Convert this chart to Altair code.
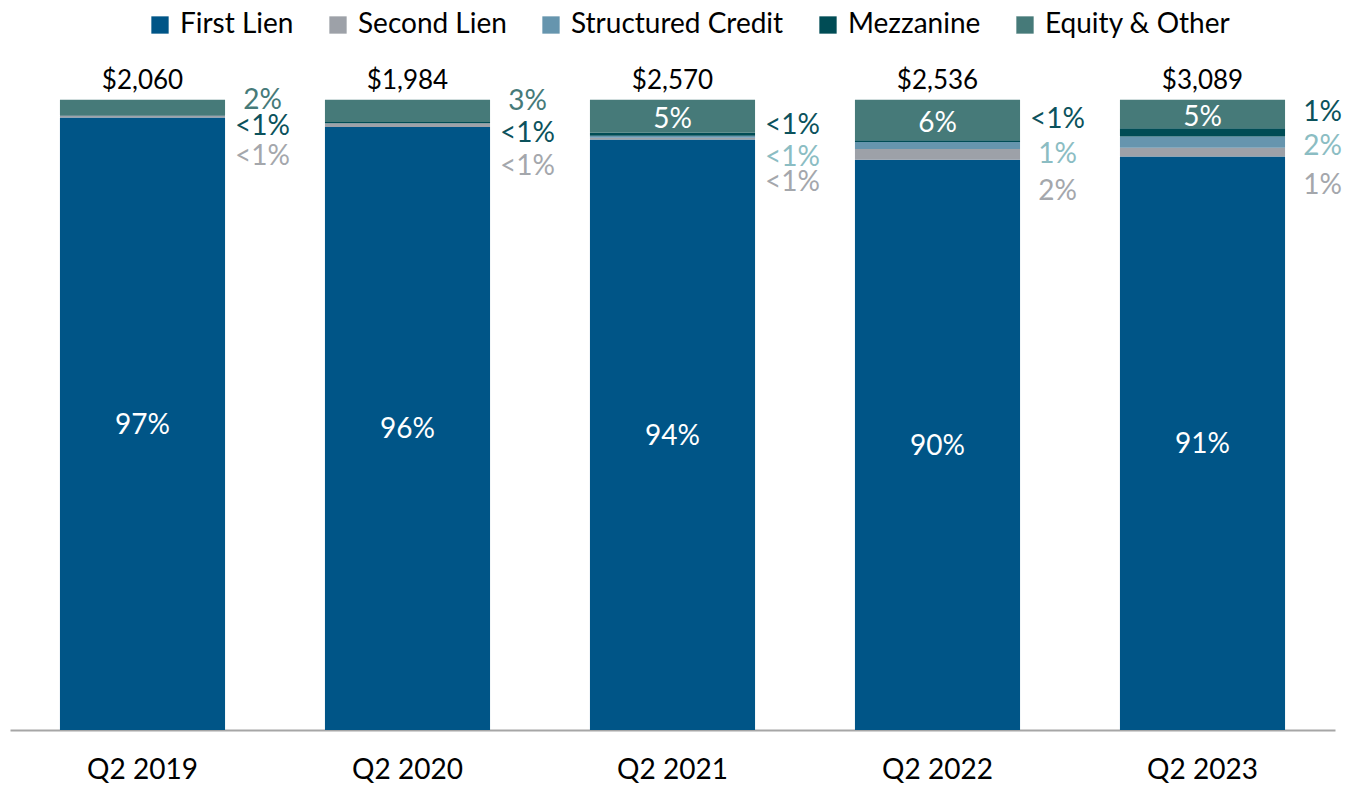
import altair as alt
import pandas as pd

quarters = ["Q2 2019", "Q2 2020", "Q2 2021", "Q2 2022", "Q2 2023"]
totals = [2060, 1984, 2570, 2536, 3089]
series = ["First Lien", "Second Lien", "Structured Credit", "Mezzanine", "Equity & Other"]
colors = ["#005587", "#9DA1A8", "#6695AE", "#004C55", "#467A79"]

first_lien = [97.2, 95.7, 93.7, 90.5, 91.0]
second_lien = [0.3, 0.6, 0.3, 1.7, 1.4]
structured = [0.0, 0.0, 0.3, 1.1, 1.8]
mezzanine = [0.1, 0.2, 0.5, 0.3, 1.3]
equity = [2.4, 3.5, 5.2, 6.4, 4.5]

fl_labels = ["97%", "96%", "94%", "90%", "91%"]
sl_labels = ["<1%", "<1%", "<1%", "2%", "1%"]
sc_labels = ["", "", "<1%", "1%", "2%"]
mz_labels = ["<1%", "<1%", "<1%", "<1%", "1%"]
eq_labels = ["2%", "3%", "5%", "6%", "5%"]

# anchor (in % of bar) of the call-out labels drawn to the right of each bar
eq_side_pos = [99.8, 99.7, None, None, None]
mz_side_pos = [95.7, 94.6, 95.9, 96.8, 97.9]
sc_side_pos = [None, None, 90.8, 91.3, 92.5]
sl_side_pos = [91.0, 89.4, 86.8, 85.4, 86.3]

FONT = "Lato"

values = [first_lien, second_lien, structured, mezzanine, equity]
rows = []
for si, (s, vals) in enumerate(zip(series, values)):
    for q, v in zip(quarters, vals):
        rows.append({"quarter": q, "series": s, "share": v, "order": si})
df = pd.DataFrame(rows)

x_enc = alt.X(
    "quarter:N",
    sort=quarters,
    title=None,
    scale=alt.Scale(paddingInner=0.377, paddingOuter=0.1885),
    axis=alt.Axis(
        labelAngle=0,
        labelFontSize=28,
        labelFont=FONT,
        labelColor="#000000",
        labelPadding=26,
        ticks=False,
        domainColor="#A6A6A6",
        domainWidth=2,
    ),
)
y_scale = alt.Scale(domain=[0, 109.5], nice=False, zero=True)

bars = alt.Chart(df).mark_bar().encode(
    x=x_enc,
    y=alt.Y("share:Q", stack="zero", scale=y_scale, axis=None, title=None),
    color=alt.Color(
        "series:N",
        sort=series,
        scale=alt.Scale(domain=series, range=colors),
        legend=alt.Legend(
            title=None,
            orient="none",
            direction="horizontal",
            legendX=136,
            legendY=-29,
            symbolType="square",
            symbolSize=300,
            symbolStrokeWidth=0,
            labelFont=FONT,
            labelFontSize=28,
            labelColor="#000000",
            labelLimit=400,
            columnPadding=30,
            labelOffset=6,
            padding=0,
        ),
    ),
    order=alt.Order("order:Q", sort="ascending"),
)

# First-lien inside labels
df_fl = pd.DataFrame({"quarter": quarters, "mid": [v / 2 for v in first_lien], "label": fl_labels})
fl_text = alt.Chart(df_fl).mark_text(color="white", fontSize=28, font=FONT, dy=2).encode(
    x=alt.X("quarter:N", sort=quarters), y=alt.Y("mid:Q", scale=y_scale), text="label:N"
)

# Equity inside labels (large enough segments)
df_eq_in = pd.DataFrame({
    "quarter": quarters,
    "mid": [100 - v / 2 for v in equity],
    "label": eq_labels,
    "inside": [v >= 4 for v in equity],
})
df_eq_in = df_eq_in[df_eq_in["inside"]]
eq_in_text = alt.Chart(df_eq_in).mark_text(color="white", fontSize=28, font=FONT, dy=4).encode(
    x=alt.X("quarter:N", sort=quarters), y=alt.Y("mid:Q", scale=y_scale), text="label:N"
)

def side_layer(pos, labels, color):
    d = pd.DataFrame({"quarter": quarters, "pos": pos, "label": labels}).dropna()
    d = d[d["label"] != ""]
    return alt.Chart(d).mark_text(color=color, fontSize=28, font=FONT, dx=120).encode(
        x=alt.X("quarter:N", sort=quarters), y=alt.Y("pos:Q", scale=y_scale), text="label:N"
    )

eq_side = side_layer(eq_side_pos, eq_labels, "#467A79")
mz_side = side_layer(mz_side_pos, mz_labels, "#0B525C")
sc_side = side_layer(sc_side_pos, sc_labels, "#8BBDC3")
sl_side = side_layer(sl_side_pos, sl_labels, "#A4A7AC")

df_tot = pd.DataFrame({
    "quarter": quarters,
    "top": [a + b + c + d + e for a, b, c, d, e in zip(*values)],
    "label": ["$" + format(t, ",") for t in totals],
})
tot_text = alt.Chart(df_tot).mark_text(color="#000000", fontSize=26, font=FONT, dy=-19).encode(
    x=alt.X("quarter:N", sort=quarters), y=alt.Y("top:Q", scale=y_scale), text="label:N"
)

chart = (
    alt.layer(bars, fl_text, eq_in_text, eq_side, mz_side, sc_side, sl_side, tot_text)
    .properties(
        width=1325,
        height=690,
        autosize=alt.AutoSizeParams(type="none"),
        padding={"left": 2, "top": 32, "right": 8, "bottom": 56},
        view=alt.ViewBackground(stroke="transparent", strokeWidth=0),
    )
    .configure_view(strokeWidth=0, stroke="transparent")
    .configure(background="white")
)

chart.save("out.html", embed_options={"renderer": "svg", "actions": False})
